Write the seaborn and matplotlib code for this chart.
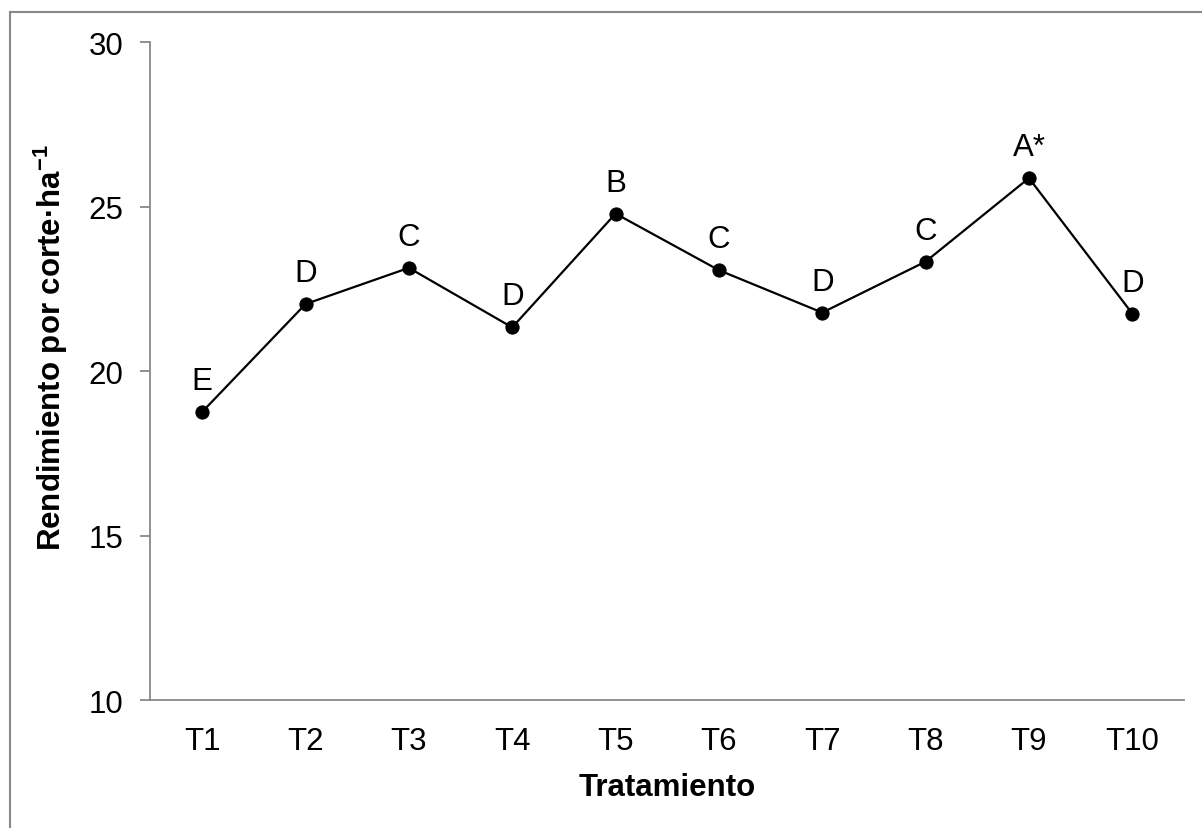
import pandas as pd
import matplotlib.pyplot as plt
import matplotlib.patches as mpatches
import seaborn as sns

# datos
tratamientos = ['T1', 'T2', 'T3', 'T4', 'T5', 'T6', 'T7', 'T8', 'T9', 'T10']
rendimiento = [18.76, 22.04, 23.14, 21.33, 24.79, 23.07, 21.78, 23.33, 25.87, 21.75]
letras = ['E', 'D', 'C', 'D', 'B', 'C', 'D', 'C', 'A*', 'D']

df = pd.DataFrame({'Tratamiento': tratamientos, 'Rendimiento': rendimiento})

sns.set_style('white')
plt.rcParams['font.family'] = ['Liberation Sans', 'DejaVu Sans']
plt.rcParams['mathtext.fontset'] = 'custom'
plt.rcParams['mathtext.rm'] = 'Liberation Sans:bold'
plt.rcParams['mathtext.default'] = 'rm'
plt.rcParams['text.color'] = 'black'
plt.rcParams['xtick.color'] = 'black'
plt.rcParams['ytick.color'] = 'black'
plt.rcParams['axes.labelcolor'] = 'black'

fig = plt.figure(figsize=(12.02, 8.29), dpi=100)
ax = fig.add_axes([0.1252, 0.1544, 0.8598, 0.7934])

sns.lineplot(data=df, x='Tratamiento', y='Rendimiento', ax=ax, color='black',
             linewidth=1.6, marker='o', markersize=9.5, markeredgecolor='black',
             sort=False)

for i, (v, l) in enumerate(zip(rendimiento, letras)):
    ax.annotate(l, (i, v), xytext=(0, 16.5), textcoords='offset points',
                ha='center', va='baseline', fontsize=22.5)

ax.set_xlim(-0.5, len(tratamientos) - 0.5)
ax.set_ylim(10, 30)
ax.set_yticks([10, 15, 20, 25, 30])

grey = '#888888'
sns.despine(ax=ax)
for s in ['left', 'bottom']:
    ax.spines[s].set_color(grey)
    ax.spines[s].set_linewidth(1.3)
ax.tick_params(axis='y', direction='out', length=7.5, width=1.3, color=grey,
               labelcolor='black', labelsize=22.5, pad=12, left=True)
ax.tick_params(axis='x', length=0, labelsize=22.5, pad=18.5)

ax.set_xlabel('Tratamiento', fontsize=22.5, fontweight='bold', labelpad=12)
ax.set_ylabel('Rendimiento por corte·ha$^{-1}$', fontsize=22.5,
              fontweight='bold')
ax.yaxis.set_label_coords(-0.078, 0.537)

# marco exterior (solo se ven el borde superior e izquierdo)
fig.add_artist(mpatches.Rectangle((9.5 / 1202, -0.2), 1.2, 0.2 + (1 - 13 / 829),
                                  transform=fig.transFigure, fill=False,
                                  edgecolor=grey, linewidth=1.5))

plt.savefig('out.png', dpi=100)
